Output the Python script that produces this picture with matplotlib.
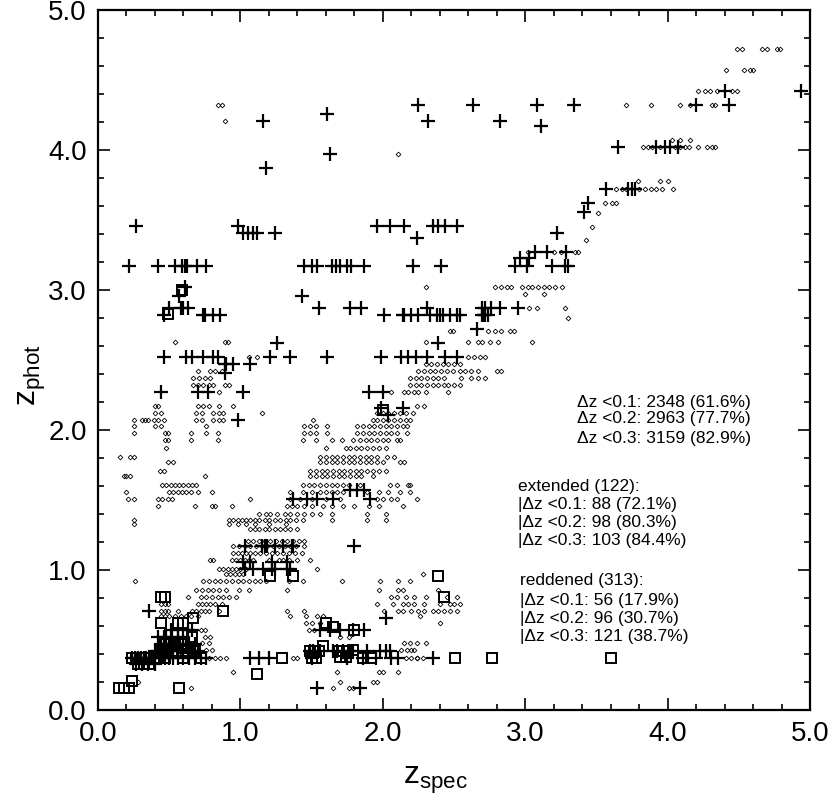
import matplotlib
matplotlib.use('Agg')
import matplotlib.pyplot as plt

plt.rcParams['font.family'] = ['Liberation Sans', 'DejaVu Sans']

#Plus signs, one (y, [x values]) pair per row of the photo-z grid
plus_rows = [
    (4.42, [4.40, 4.94]),
    (4.32, [2.25, 2.63, 3.08, 3.34, 4.20, 4.43]),
    (4.26, [1.61]),
    (4.21, [1.16, 2.32, 2.82]),
    (4.17, [3.11]),
    (4.02, [3.65, 3.92, 3.98, 4.02, 4.07]),
    (3.97, [1.63]),
    (3.87, [1.18]),
    (3.72, [3.57, 3.72, 3.75, 3.77]),
    (3.62, [3.44]),
    (3.56, [3.41]),
    (3.46, [0.27, 0.98, 1.96, 2.05, 2.15, 2.35, 2.39, 2.44, 2.52]),
    (3.41, [1.02, 1.05, 1.09, 1.12, 1.24, 3.22]),
    (3.37, [2.24]),
    (3.27, [3.07, 3.15, 3.29]),
    (3.23, [2.96, 3.03]),
    (3.17, [0.22, 0.42, 0.54, 0.59, 0.61, 0.625, 0.695, 0.76, 1.45, 1.50, 1.54,
            1.64, 1.67, 1.70, 1.75, 1.78, 1.87, 2.21, 2.41, 2.93, 3.01, 3.19, 3.28, 3.30]),
    (3.02, [0.61]),
    (2.96, [0.57, 1.43]),
    (2.87, [0.50, 0.58, 0.60, 0.63, 1.55, 1.77, 1.85, 2.31, 2.70, 2.72, 2.76, 2.82, 2.95]),
    (2.82, [0.46, 0.74, 0.75, 0.81, 0.86, 2.01, 2.14, 2.15, 2.20, 2.25, 2.33, 2.38, 2.40,
            2.42, 2.47, 2.52, 2.54, 2.70, 2.71, 2.72, 2.74]),
    (2.72, [2.66]),
    (2.62, [1.26, 2.39]),
    (2.52, [0.46, 0.62, 0.66, 0.74, 0.81, 0.84, 1.21, 1.35, 1.61, 1.99, 2.13, 2.18, 2.23,
            2.31, 2.44, 2.52]),
    (2.47, [0.89, 0.90, 0.95, 1.07]),
    (2.41, [0.89]),
    (2.27, [0.44, 0.70, 0.77, 1.02, 1.90, 2.00]),
    (2.16, [1.99, 2.14]),
    (2.11, [2.04]),
    (2.07, [0.98]),
    (1.57, [1.77, 1.82, 1.87]),
    (1.51, [1.37, 1.47, 1.54, 1.65, 1.91]),
    (1.17, [1.03, 1.15, 1.17, 1.19, 1.24, 1.30, 1.36, 1.37, 1.80]),
    (1.06, [1.02, 1.07, 1.22, 1.33]),
    (1.01, [1.03, 1.09, 1.16, 1.22, 1.24, 1.33, 1.35]),
    (0.71, [0.36]),
    (0.66, [2.02]),
    (0.57, [0.51, 0.56, 0.63, 0.66, 1.56, 1.63, 1.70, 1.79, 1.87]),
    (0.52, [0.42, 0.46, 0.48, 0.52, 0.56, 0.60]),
    (0.47, [0.44, 0.47, 0.50, 0.53, 0.57, 0.60, 0.64, 0.68]),
    (0.42, [0.40, 0.42, 0.45, 0.48, 0.50, 0.53, 0.56, 0.60, 0.63, 0.66, 0.70,
            1.49, 1.51, 1.56, 1.65, 1.68, 1.72, 1.77, 1.79, 1.89, 1.98, 2.02, 2.05]),
    (0.37, [0.24, 0.26, 0.28, 0.30, 0.32, 0.34, 0.36, 0.38, 0.40, 0.44, 0.47, 0.50, 0.53,
            0.56, 0.60, 0.64, 0.68, 0.72, 0.76, 1.07, 1.13, 1.20, 1.50, 1.75, 1.86, 1.95,
            2.06, 2.11, 2.35]),
    (0.33, [0.27, 0.31, 0.35, 0.40]),
    (0.16, [1.54, 1.84]),
]

#Open squares (reddened objects)
square_x = [0.15, 0.18, 0.22, 0.24, 0.57, 1.12, 1.29, 2.51, 2.77, 3.60, 0.47, 0.60, 0.72,
            1.86, 1.58, 1.79, 1.60, 1.65, 1.80, 0.44, 0.44, 0.47, 0.88, 0.67, 1.21, 1.37,
            2.39, 2.43, 2.00, 0.59, 0.49, 0.56, 0.60, 0.66,
            0.24, 0.27, 0.30, 0.33, 0.36, 0.39, 0.42, 0.28, 0.32, 0.36, 0.45, 0.48, 0.52,
            0.55, 0.63, 0.68, 0.46, 0.50, 0.54, 0.58, 1.49, 1.52, 1.55, 1.50, 1.53, 1.69,
            1.72, 1.75, 1.70, 1.74, 1.92]
square_y = [0.16, 0.16, 0.16, 0.21, 0.16, 0.26, 0.37, 0.37, 0.37, 0.37, 0.37, 0.37, 0.37,
            0.37, 0.46, 0.43, 0.62, 0.59, 0.57, 0.62, 0.81, 0.81, 0.71, 0.66, 0.96, 0.96,
            0.96, 0.81, 2.14, 3.00, 2.83, 0.62, 0.62, 0.52,
            0.37, 0.37, 0.37, 0.37, 0.37, 0.37, 0.37, 0.33, 0.33, 0.33, 0.42, 0.42, 0.42,
            0.42, 0.42, 0.42, 0.47, 0.47, 0.47, 0.47, 0.42, 0.42, 0.42, 0.37, 0.37, 0.42,
            0.42, 0.42, 0.38, 0.38, 0.37]

#Small diamonds for the main sample, again one (y, [x values]) pair per row
diamond_rows = [
    (4.72, [4.49, 4.52, 4.66, 4.70, 4.77, 4.79]),
    (4.57, [4.41, 4.54, 4.58, 4.60]),
    (4.42, [4.21, 4.26, 4.30, 4.35, 4.45, 4.49]),
    (4.32, [0.84, 0.87, 3.71, 3.88, 4.09, 4.16, 4.31, 4.33]),
    (4.21, [0.89]),
    (4.07, [4.03, 4.09, 4.16]),
    (4.02, [3.83, 3.86, 3.89, 3.95, 4.05, 4.09, 4.12, 4.15, 4.21, 4.28, 4.31, 4.33]),
    (3.97, [2.11]),
    (3.78, [3.79, 3.95, 4.00]),
    (3.72, [3.64, 3.68, 3.71, 3.80, 3.84, 3.88, 3.92, 3.96, 4.04]),
    (3.62, [3.56, 3.61, 3.64]),
    (3.55, [3.51]),
    (3.45, [3.47]),
    (3.36, [3.43]),
    (3.27, [3.02, 3.20, 3.25, 3.35, 3.37]),
    (3.02, [2.30, 2.79, 2.83, 2.87, 2.90, 2.98, 3.02, 3.05, 3.09, 3.13, 3.17, 3.21, 3.26]),
    (2.97, [3.00, 3.13]),
    (2.87, [3.03, 3.08, 3.28]),
    (2.80, [3.30]),
    (2.71, [2.47, 2.49, 2.74, 2.79, 2.83, 2.89, 2.92]),
    (2.63, [0.54, 0.89, 0.91, 2.30, 2.60, 2.67, 2.70, 2.75, 2.81, 3.05]),
    (2.52, [1.06, 1.12, 2.60, 2.64, 2.68, 2.72]),
    (2.47, [2.30, 2.34, 2.38, 2.42, 2.46, 2.50, 2.54]),
    (2.42, [0.70, 0.79, 0.82, 0.87, 2.25, 2.29, 2.33, 2.37, 2.41, 2.45, 2.49, 2.54, 2.58,
            2.62, 2.67, 2.80, 2.83]),
    (2.37, [0.67, 0.71, 0.75, 0.79, 2.19, 2.23, 2.27, 2.31, 2.35, 2.39, 2.43, 2.55, 2.62,
            2.67, 2.72]),
    (2.32, [0.67, 0.70, 0.74, 0.78, 0.81, 0.89, 0.92, 2.19, 2.23, 2.27, 2.31, 2.35, 2.39,
            2.43, 2.46, 2.50, 2.54]),
    (2.27, [0.85, 2.06, 2.15, 2.18, 2.22, 2.25, 2.30, 2.46]),
    (2.17, [0.40, 0.42, 0.70, 0.74, 0.78, 0.85, 0.95, 2.24, 2.29]),
    (2.12, [0.40, 0.44, 0.69, 0.73, 0.81, 0.85, 0.88, 1.15, 1.96, 2.00, 2.04, 2.08, 2.12,
            2.16, 2.21]),
    (2.07, [0.25, 0.31, 0.33, 0.35, 0.39, 0.42, 0.46, 0.69, 0.73, 0.81, 0.85, 0.88, 1.51,
            1.93, 1.96, 2.00, 2.04, 2.08, 2.12, 2.16, 2.19]),
    (2.03, [0.25, 0.40, 0.44, 0.76, 1.45, 1.49, 1.53, 1.61, 1.82, 1.86, 1.90, 1.94, 1.98,
            2.02, 2.06, 2.10, 2.14, 2.17]),
    (1.98, [0.25, 0.47, 0.49, 0.65, 0.76, 0.84, 1.45, 1.49, 1.53, 1.61, 1.82, 1.86, 1.90,
            1.94, 1.98, 2.02, 2.06, 2.10, 2.17]),
    (1.93, [0.47, 0.49, 0.65, 0.84, 1.44, 1.53, 1.64, 1.71, 1.79, 1.84, 1.88, 1.92, 1.96,
            2.00, 2.04, 2.10, 2.12]),
    (1.87, [0.48, 1.60, 1.74, 1.77, 1.81, 1.85, 1.89, 1.93, 1.97, 2.02]),
    (1.81, [0.155, 0.225, 0.25, 1.56, 1.60, 1.64, 1.68, 1.72, 1.76, 1.80, 1.84, 1.88, 1.92,
            1.96, 2.03, 2.08]),
    (1.77, [0.49, 0.525, 1.56, 1.60, 1.64, 1.68, 1.72, 1.76, 1.80, 1.84, 1.88, 1.92, 1.96,
            2.00, 2.12, 2.15]),
    (1.71, [0.436, 0.464, 1.49, 1.53, 1.57, 1.61, 1.65, 1.69, 1.73, 1.77, 1.81, 1.85, 1.89,
            1.93, 1.97, 2.02]),
    (1.67, [0.18, 0.20, 0.225, 0.75, 1.49, 1.53, 1.57, 1.61, 1.65, 1.69, 1.73, 1.77, 1.81,
            1.85, 1.93]),
    (1.61, [0.45, 0.48, 0.51, 0.54, 0.57, 0.60, 0.63, 0.66, 0.69, 1.44, 1.48, 1.52, 1.56,
            1.60, 1.64, 1.68, 1.72, 1.76, 1.84, 2.05, 2.10, 2.19, 2.18]),
    (1.56, [0.20, 0.50, 0.53, 0.56, 0.59, 0.62, 0.65, 0.70, 0.80, 1.35, 1.44, 1.50, 1.56,
            1.60, 1.64, 1.68, 1.72, 1.89, 1.97, 2.04, 2.12, 2.19]),
    (1.51, [0.21, 0.25, 0.42, 0.45, 0.49, 0.52, 1.07, 1.35, 1.42, 1.50, 1.60, 1.70, 1.96,
            2.00, 2.06, 2.10, 2.24]),
    (1.46, [0.42, 0.68, 0.80, 0.82, 0.94, 1.33, 1.36, 1.40, 1.45, 1.50, 1.58, 1.64, 1.72,
            1.80, 1.90, 1.97, 2.14]),
    (1.40, [1.13, 1.18, 1.21, 1.26, 1.31, 1.35, 1.40, 1.45, 1.50, 1.56, 1.64, 1.89, 2.02]),
    (1.36, [0.25, 0.92, 0.95, 0.98, 1.01, 1.04, 1.07, 1.10, 1.13, 1.17, 1.20, 1.24, 1.28,
            1.32, 1.35, 1.39, 1.44, 1.64, 1.89, 2.02]),
    (1.33, [0.25, 0.92, 0.98, 1.04, 1.10, 1.20, 1.32]),
    (1.29, [1.07, 1.10, 1.13, 1.17, 1.20, 1.24, 1.28, 1.31, 1.35, 1.40]),
    (1.21, [1.05, 1.09, 1.13, 1.17, 1.21, 1.25, 1.29, 1.33, 1.37, 1.41, 1.45]),
    (1.17, [0.95, 0.99, 1.03, 1.07, 1.11, 1.15, 1.19, 1.23, 1.27, 1.31, 1.35, 1.39, 1.45]),
    (1.12, [0.95, 0.98, 1.01, 1.04, 1.07, 1.10, 1.14, 1.18, 1.22, 1.26, 1.30, 1.34, 1.38,
            1.43]),
    (1.07, [0.79, 0.81, 0.94, 0.97, 1.00, 1.03, 1.06, 1.09, 1.20, 1.27, 1.30, 1.34, 1.40,
            1.49]),
    (1.01, [0.85, 0.88, 0.91, 0.94, 0.97, 1.00, 1.04, 1.54]),
    (0.97, [0.90, 0.93, 0.96, 0.99, 1.02, 2.28]),
    (0.92, [0.26, 0.74, 0.78, 0.82, 0.86, 0.90, 0.94, 0.98, 1.02, 1.06, 1.10, 1.14, 1.18,
            1.34, 1.44, 1.71, 1.98, 2.11, 2.19]),
    (0.86, [0.69, 0.73, 0.77, 0.81, 0.85, 0.90, 0.99, 1.06, 1.33, 1.97, 2.11, 2.14, 2.39]),
    (0.81, [0.63, 0.72, 0.76, 0.80, 0.84, 0.88, 0.92, 0.97, 2.06, 2.10, 2.16, 2.22, 2.30,
            2.45, 2.52]),
    (0.76, [0.44, 0.47, 0.49, 0.70, 0.73, 0.76, 0.79, 0.82, 0.87, 1.96, 2.07, 2.14, 2.18,
            2.22, 2.29, 2.40, 2.47, 2.50, 2.54]),
    (0.71, [0.44, 0.47, 0.49, 0.56, 0.66, 0.69, 0.72, 0.75, 0.78, 0.85, 1.33, 1.45, 2.01,
            2.11, 2.14, 2.20, 2.25, 2.29, 2.35, 2.39, 2.43, 2.47, 2.52]),
    (0.67, [0.44, 0.47, 0.50, 0.54, 0.58, 0.62, 0.65, 0.70, 1.35, 1.46, 1.54, 1.58, 2.26]),
    (0.62, [1.46, 1.50, 1.56, 2.40]),
    (0.57, [1.48, 1.52, 0.72, 0.75]),
    (0.52, [0.75, 0.79, 1.70, 1.76]),
    (0.48, [0.73, 0.78, 2.15, 2.19, 2.24, 2.30]),
    (0.43, [0.76, 0.80, 2.13, 2.17, 2.20, 2.22]),
    (0.37, [0.78, 0.82, 0.86, 0.90, 1.37, 1.40, 2.16, 2.20, 2.24, 2.24, 2.28]),
    (0.27, [0.95, 1.68, 1.97, 2.00, 2.11]),
    (0.20, [0.28, 1.70, 1.93, 1.96]),
    (0.16, [0.65, 1.65, 1.76, 1.79]),
]

#Text blocks: (text, left pixel, centre pixel)
stats_lines = [
    ('Δz <0.1: 2348 (61.6%)', 577, 402),
    ('Δz <0.2: 2963 (77.7%)', 577, 418),
    ('Δz <0.3: 3159 (82.9%)', 577, 438),
    ('extended (122):', 518, 486),
    ('|Δz <0.1: 88 (72.1%)', 518, 504),
    ('|Δz <0.2: 98 (80.3%)', 518, 522),
    ('|Δz <0.3: 103 (84.4%)', 518, 541),
    ('reddened (313):', 520, 581),
    ('|Δz <0.1: 56 (17.9%)', 520, 600),
    ('|Δz <0.2: 96 (30.7%)', 520, 618),
    ('|Δz <0.3: 121 (38.7%)', 520, 637),
]

major_ticks = [0.0, 1.0, 2.0, 3.0, 4.0, 5.0]
minor_ticks = [0.2, 0.4, 0.6, 0.8, 1.2, 1.4, 1.6, 1.8, 2.2, 2.4, 2.6, 2.8,
               3.2, 3.4, 3.6, 3.8, 4.2, 4.4, 4.6, 4.8]
W, H = 830, 799

def flatten(rows):
    xs, ys = [], []
    for y, row in rows:
        xs += row
        ys += [y] * len(row)
    return xs, ys

fig = plt.figure(figsize=(W / 100, H / 100), dpi=100)
ax = fig.add_axes([98 / W, 1 - 710 / H, 712 / W, 700 / H])

dx, dy = flatten(diamond_rows)
ax.plot(dx, dy, linestyle='none', marker='D', ms=2.4, mew=0.6, mfc='none', mec='black')
px, py = flatten(plus_rows)
ax.plot(px, py, linestyle='none', marker='+', ms=10, mew=1.6, color='black')
ax.plot(square_x, square_y, linestyle='none', marker='s', ms=6.5, mew=1.4, mfc='none', mec='black')

ax.set_xlim(0, 5)
ax.set_ylim(0, 5)
ax.set_xticks(major_ticks)
ax.set_yticks(major_ticks)
ax.set_xticks(minor_ticks, minor=True)
ax.set_yticks(minor_ticks, minor=True)
ax.set_xticklabels(['%.1f' % t for t in major_ticks])
ax.set_yticklabels(['%.1f' % t for t in major_ticks])
ax.tick_params(which='major', direction='in', length=8.5, width=1.2, top=True, right=True,
               labelsize=20, pad=8)
ax.tick_params(which='minor', direction='in', length=4.3, width=1.2, top=True, right=True)
for spine in ax.spines.values():
    spine.set_linewidth(1.6)

fig.text(436 / W, 1 - 780 / H, r'$\mathdefault{z_{spec}}$', fontsize=23, ha='center', va='center')
fig.text(32 / W, 1 - 375 / H, r'$\mathdefault{z_{phot}}$', fontsize=23, ha='center', va='center',
         rotation=90)

for text, left, centre in stats_lines:
    fig.text(left / W, 1 - centre / H, text, fontsize=12.5, ha='left', va='center')

fig.savefig('out.png', dpi=100)
